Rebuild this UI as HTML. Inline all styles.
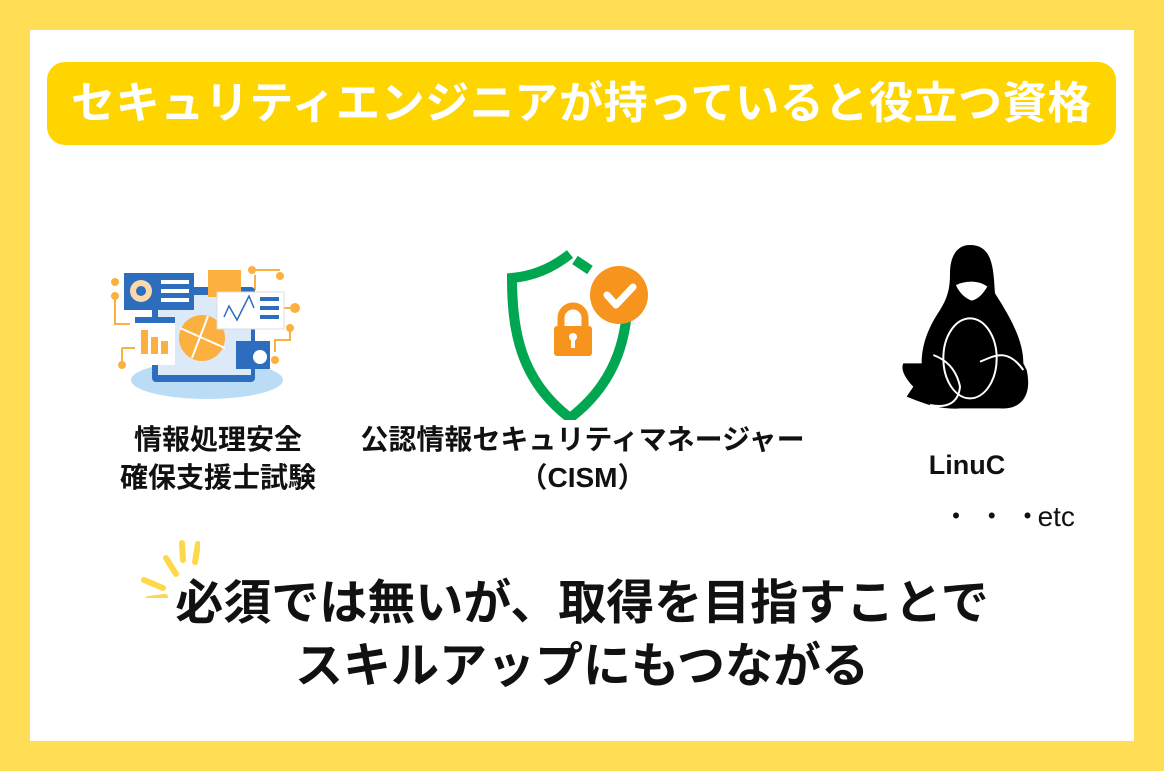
<!DOCTYPE html>
<html><head><meta charset="utf-8"><style>
body{margin:0;width:1164px;height:771px;background:#FFDD55;position:relative;overflow:hidden;font-family:"Liberation Sans","Noto Sans CJK JP",sans-serif;font-weight:bold}
.panel{position:absolute;left:30px;top:30px;width:1104px;height:711px;background:#fff}
.hdr{position:absolute;left:47px;top:62px;width:1069px;height:83px;background:#FFD500;border-radius:18px;color:#fff;font-size:44px;line-height:83px;text-align:center;letter-spacing:0.6px;white-space:nowrap}
.t{position:absolute;color:#111;text-align:center;white-space:nowrap}
</style></head><body>
<div class="panel"></div>
<div class="hdr">セキュリティエンジニアが持っていると役立つ資格</div>

<svg style="position:absolute;left:100px;top:240px" width="230" height="170" viewBox="0 0 230 170">
<ellipse cx="107" cy="140" rx="76" ry="19" fill="#BBDCF5"/>
<g stroke="#FBB040" stroke-width="2" fill="none"><path d="M15 56 V84 H30 M22 108 V125 M40 108 H22 M52 35 H30 M155 35 V50 M155 30 H180 M170 68 H195 M175 112 V100 H190 V88"/></g>
<g fill="#FBB040"><circle cx="15" cy="56" r="4"/><circle cx="15" cy="42" r="4"/><circle cx="22" cy="125" r="4"/><circle cx="180" cy="36" r="4"/><circle cx="195" cy="68" r="5"/><circle cx="190" cy="88" r="4"/><circle cx="175" cy="120" r="4"/><circle cx="152" cy="30" r="4"/></g>
<rect x="52" y="47" width="103" height="95" rx="4" fill="#2D6DBE"/>
<rect x="58" y="55" width="93" height="80" fill="#DCE9F8"/>
<rect x="24" y="33" width="70" height="37" fill="#2D6DBE"/>
<circle cx="41" cy="51" r="11" fill="#FCD9A8"/><circle cx="41" cy="51" r="5" fill="#2D6DBE"/>
<rect x="61" y="40" width="28" height="4" fill="#fff"/><rect x="61" y="49" width="28" height="4" fill="#fff"/><rect x="61" y="58" width="28" height="4" fill="#fff"/>
<rect x="108" y="30" width="33" height="27" fill="#FBB040"/>
<rect x="35" y="77" width="40" height="48" fill="#fff"/><rect x="35" y="77" width="40" height="6" fill="#2D6DBE"/>
<rect x="41" y="90" width="7" height="24" fill="#FBB040"/><rect x="51" y="97" width="7" height="17" fill="#FBB040"/><rect x="61" y="101" width="7" height="13" fill="#FBB040"/>
<circle cx="102" cy="98" r="23" fill="#FBB040"/><path d="M80 88 L125 108 M108 76 L92 118" stroke="#fff" stroke-width="2"/>
<rect x="117" y="52" width="67" height="37" fill="#fff" stroke="#ddd"/>
<path d="M124 77 L129 66 L137 80 L149 56 L154 68" stroke="#2D6DBE" stroke-width="1.5" fill="none"/>
<rect x="160" y="57" width="19" height="4" fill="#2D6DBE"/><rect x="160" y="66" width="19" height="4" fill="#2D6DBE"/><rect x="160" y="75" width="19" height="4" fill="#2D6DBE"/>
<rect x="136" y="101" width="34" height="28" fill="#2D6DBE"/><circle cx="160" cy="117" r="7" fill="#fff"/>
</svg>

<svg style="position:absolute;left:470px;top:250px" width="200" height="170" viewBox="0 0 200 170">
<path d="M100 4 C85 16 65 26 42 28 C42 80 50 130 100 168 C150 130 158 80 158 40" stroke="#00A650" stroke-width="10" fill="none"/>
<path d="M105 10 L120 20" stroke="#00A650" stroke-width="10"/>
<circle cx="149" cy="45" r="29" fill="#F7941D"/>
<path d="M137 45 L146 55 L163 37" stroke="#fff" stroke-width="7" fill="none" stroke-linecap="round" stroke-linejoin="round"/>
<rect x="84" y="76" width="38" height="30" rx="3" fill="#F7941D"/>
<path d="M91 78 V68 a12 12 0 0 1 24 0 V78" stroke="#F7941D" stroke-width="7" fill="none"/>
<circle cx="103" cy="87" r="4" fill="#fff"/><rect x="101" y="88" width="4" height="10" fill="#fff"/>
</svg>

<svg style="position:absolute;left:880px;top:230px" width="200" height="200" viewBox="0 0 600 600">
<path d="M270 45 C230 45 210 80 210 130 C210 170 205 200 180 240 C140 300 125 350 125 400 L70 400 C60 420 80 450 100 470 L80 500 C130 520 180 540 240 535 L360 535 C410 540 460 510 440 420 L430 400 C430 330 390 260 345 190 C340 120 340 45 270 45 Z" fill="#000"/>
<path d="M228 165 C260 150 300 152 322 170 C310 190 295 208 275 212 C255 205 235 185 228 165 Z" fill="#fff"/>
<ellipse cx="270" cy="385" rx="80" ry="120" fill="none" stroke="#fff" stroke-width="6"/>
<path d="M160 375 C200 390 230 420 240 470 C235 520 200 535 150 525 M300 395 C340 380 380 350 430 420" stroke="#fff" stroke-width="6" fill="none"/>
</svg>

<div class="t" style="left:80px;width:276px;top:421px;font-size:28px;line-height:38px">情報処理安全<br>確保支援士試験</div>
<div class="t" style="left:320px;width:525px;top:421px;font-size:28px;line-height:38px">公認情報セキュリティマネージャー<br>（CISM）</div>
<div class="t" style="left:917px;width:100px;top:450px;font-size:27px;line-height:30px">LinuC</div>
<div class="t" style="left:942px;top:501px;font-size:28px;line-height:32px;font-weight:normal">・ ・ ・<span style="margin-left:-4px">etc</span></div>

<svg style="position:absolute;left:130px;top:538px" width="70" height="60">
<g stroke="#FFD84A" stroke-width="6" stroke-linecap="round"><path d="M52 5 L53 22 M68 6 L65 24 M36 20 L46 36 M14 42 L33 50 M18 61 L35 59"/></g>
</svg>
<div class="t" style="left:0;width:1164px;top:572px;font-size:48px;line-height:63px">必須では無いが、取得を目指すことで<br>スキルアップにもつながる</div>
</body></html>
